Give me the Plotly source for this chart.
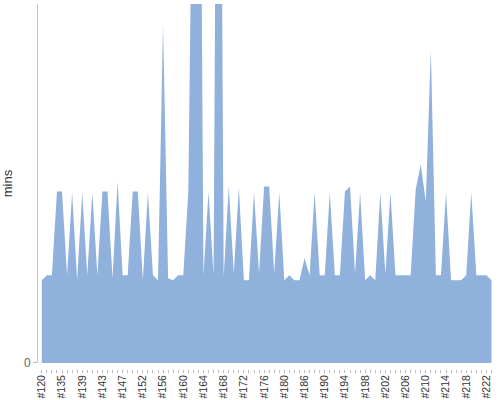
import plotly.graph_objects as go

builds = [
    "#120", "#132", "#133", "#134", "#135", "#136", "#137", "#138", "#139", "#140",
    "#141", "#142", "#143", "#144", "#145", "#146", "#147", "#148", "#149", "#151",
    "#152", "#153", "#154", "#155", "#156", "#157", "#158", "#159", "#160", "#161",
    "#162", "#163", "#164", "#165", "#166", "#167", "#168", "#169", "#170", "#171",
    "#172", "#173", "#174", "#175", "#176", "#177", "#178", "#179", "#180", "#181",
    "#183", "#185", "#186", "#187", "#188", "#189", "#190", "#191", "#192", "#193",
    "#194", "#195", "#196", "#197", "#198", "#199", "#200", "#201", "#202", "#203",
    "#204", "#205", "#206", "#207", "#208", "#209", "#210", "#211", "#212", "#213",
    "#214", "#215", "#216", "#217", "#218", "#219", "#220", "#221", "#222", "#223",
]

minutes = [
    8.3, 8.8, 8.8, 17.2, 17.2, 8.8, 17.1, 8.3, 17.1, 8.8,
    17.1, 8.8, 17.2, 17.2, 8.5, 18.2, 8.8, 8.8, 17.2, 17.2,
    8.3, 17.1, 8.8, 8.3, 34.0, 8.5, 8.3, 8.8, 8.8, 17.2,
    60.0, 90.0, 8.8, 17.2, 8.8, 100.0, 8.6, 17.7, 9.0, 17.6,
    8.3, 8.3, 17.1, 9.0, 17.7, 17.7, 9.0, 17.1, 8.3, 8.8,
    8.3, 8.3, 10.5, 8.8, 17.1, 8.8, 8.8, 17.1, 8.8, 8.8,
    17.2, 17.7, 9.0, 17.1, 8.3, 8.8, 8.3, 17.1, 8.9, 17.1,
    8.8, 8.8, 8.8, 8.8, 17.4, 19.9, 16.2, 31.4, 8.8, 8.8,
    17.1, 8.3, 8.3, 8.3, 8.8, 17.1, 8.8, 8.8, 8.8, 8.3,
]

label_every = 4
y_max = 36

idx = list(range(len(builds)))
tick_idx = idx[::label_every]
tick_txt = [builds[i] for i in tick_idx]

fill = "#8fb1dc"

fig = go.Figure()
fig.add_trace(go.Scatter(
    x=idx, y=minutes, mode="lines", fill="tozeroy",
    fillcolor=fill, line=dict(width=0, color=fill),
    hoverinfo="x+y", showlegend=False,
))

fig.update_layout(
    width=500, height=400,
    margin=dict(l=38, r=7, t=4, b=31),
    paper_bgcolor="white", plot_bgcolor="white",
    font=dict(family="Liberation Sans, Arial, sans-serif", size=11, color="#333"),
    xaxis=dict(
        range=[-0.75, len(builds) - 0.7],
        tickmode="array", tickvals=tick_idx, ticktext=tick_txt,
        tickangle=-90, ticks="outside", ticklen=3, tickcolor="#bbbbbb",
        showline=False, showgrid=False, zeroline=False,
        anchor="free", position=0, automargin=False,
        ticklabelstandoff=-2,
        tickfont=dict(size=10.5, color="#333"),
        minor=dict(dtick=1, tick0=0, ticks="outside", ticklen=3, tickcolor="#bbbbbb", showgrid=False),
    ),
    yaxis=dict(
        domain=[0.0165, 1],
        range=[0, y_max], tickvals=[0], ticks="outside", ticklen=4, tickcolor="#bbbbbb",
        showline=True, linecolor="#c4c4c4", linewidth=1,
        showgrid=False, zeroline=False, automargin=False,
        tickfont=dict(size=12, color="#666"),
        title=dict(text="mins", font=dict(size=13, color="#333"), standoff=14),
    ),
)

fig.write_html("out.html", config={"displayModeBar": False},
               post_script="document.body.style.margin='0';")
